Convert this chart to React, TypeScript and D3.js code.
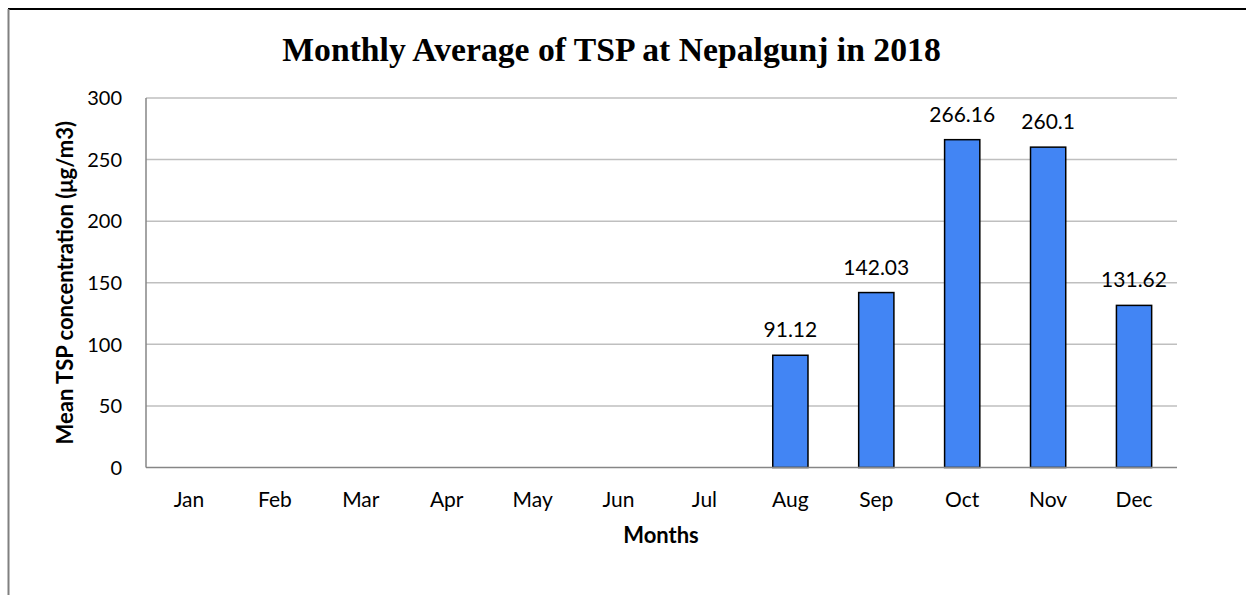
import React from "react";
import * as d3 from "d3";

const months = ["Jan","Feb","Mar","Apr","May","Jun","Jul","Aug","Sep","Oct","Nov","Dec"];
const tspValues: (number | null)[] = [null,null,null,null,null,null,null,91.12,142.03,266.16,260.1,131.62];
const yTicks = [0,50,100,150,200,250,300];
const title = "Monthly Average of TSP at Nepalgunj in 2018";
const yLabel = "Mean TSP concentration (μg/m3)";
const xLabel = "Months";

export default function App() {
  const W = 1246, H = 595;
  const left = 146, right = 1177, top = 98, bottom = 467.5;
  const x = d3.scaleBand<string>().domain(months).range([left, right]).paddingInner(0.59).paddingOuter(0.295);
  const xc = d3.scaleBand<string>().domain(months).range([left, right]);
  const y = d3.scaleLinear().domain([0, 300]).range([bottom, top]);
  const font = "Lato, 'Open Sans', sans-serif";
  return (
    <svg width={W} height={H} style={{ position: "absolute", left: 0, top: 0, background: "#fff" }}>
      <rect x={0} y={0} width={W} height={H} fill="#fff" />
      <line x1={8} x2={W} y1={9} y2={9} stroke="#000" strokeWidth={2} />
      <line x1={8.5} x2={8.5} y1={9} y2={H} stroke="#808080" strokeWidth={2} />
      <text x={611.5} y={61} textAnchor="middle" fontFamily="'Liberation Serif', serif" fontWeight="bold" fontSize={33.7} fill="#000">{title}</text>
      {yTicks.map(t => (
        <g key={t}>
          {t > 0 && <line x1={left} x2={right} y1={y(t)} y2={y(t)} stroke="#bfbfbf" strokeWidth={1.5} />}
          <text x={122} y={y(t)} dy="0.36em" textAnchor="end" fontFamily={font} fontSize={20} fill="#000">{t}</text>
        </g>
      ))}
      {tspValues.map((v, i) => v == null ? null : (
        <g key={months[i]}>
          <rect x={x(months[i])!} y={y(v)} width={x.bandwidth()} height={bottom - y(v)} fill="#4285F4" stroke="#000" strokeWidth={1.5} />
          <text x={x(months[i])! + x.bandwidth() / 2} y={y(v) - 18} textAnchor="middle" fontFamily={font} fontSize={21} fill="#000">{v}</text>
        </g>
      ))}
      <line x1={left} x2={right} y1={bottom} y2={bottom} stroke="#868686" strokeWidth={1.5} />
      <line x1={left} x2={left} y1={top} y2={bottom} stroke="#868686" strokeWidth={1.5} />
      {months.map(m => (
        <text key={m} x={xc(m)! + xc.bandwidth() / 2} y={507} textAnchor="middle" fontFamily={font} fontSize={21} fill="#000">{m}</text>
      ))}
      <text x={661} y={543} textAnchor="middle" fontFamily={font} fontWeight="bold" fontSize={22} fill="#000">{xLabel}</text>
      <text transform={`translate(73,${(top + bottom) / 2}) rotate(-90)`} textAnchor="middle" fontFamily={font} fontWeight="bold" fontSize={22} fill="#000">{yLabel}</text>
    </svg>
  );
}
